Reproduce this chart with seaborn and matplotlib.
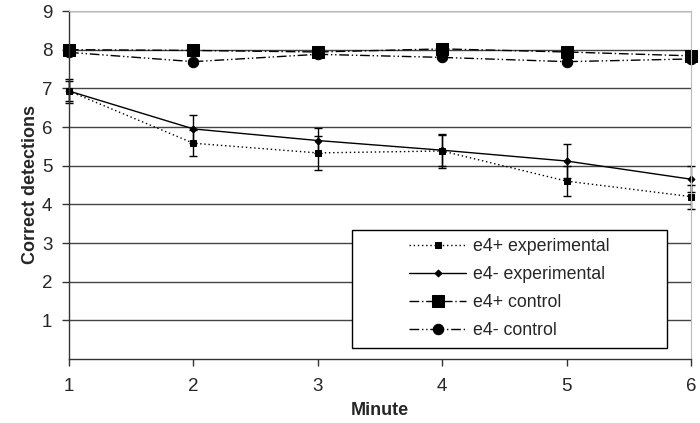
import numpy as np
import pandas as pd
import matplotlib
matplotlib.use("Agg")
import matplotlib.pyplot as plt
import seaborn as sns
from matplotlib.patches import Rectangle

minutes = [1, 2, 3, 4, 5, 6]

e4p_exp = [6.93, 5.58, 5.33, 5.38, 4.60, 4.20]
e4p_exp_err = [0.30, 0.34, 0.43, 0.44, 0.38, 0.31]
e4m_exp = [6.93, 5.95, 5.65, 5.40, 5.12, 4.65]
e4m_exp_err = [0.26, 0.36, 0.33, 0.40, 0.44, 0.33]
e4p_ctrl = [8.00, 7.98, 7.94, 8.02, 7.94, 7.84]
e4m_ctrl = [7.93, 7.69, 7.88, 7.80, 7.69, 7.76]

labels = ["e4+ experimental", "e4- experimental", "e4+ control", "e4- control"]

sns.set_style("white")
plt.rcParams['font.family'] = ['Liberation Sans', 'DejaVu Sans']

fig = plt.figure(figsize=(7, 4.23), dpi=100)
ax = fig.add_axes([69 / 700, 64 / 423, 622 / 700, 348 / 423])

styles = [
    dict(ls=(0, (1, 2)), marker='s', ms=4.5),
    dict(ls='-', marker='D', ms=3.5),
    dict(ls=(0, (7, 2, 1, 2)), marker='s', ms=8),
    dict(ls=(0, (7, 2, 1, 2, 1, 2)), marker='o', ms=7.5),
]
series = [e4p_exp, e4m_exp, e4p_ctrl, e4m_ctrl]
for vals, lab, st in zip(series, labels, styles):
    sns.lineplot(x=minutes, y=vals, ax=ax, color='black', lw=1.0,
                 linestyle=st['ls'], marker=st['marker'], markersize=st['ms'],
                 markeredgecolor='black', label=lab, legend=False, clip_on=False)

for vals, err in [(e4p_exp, e4p_exp_err), (e4m_exp, e4m_exp_err)]:
    eb = ax.errorbar(minutes, vals, yerr=err, fmt='none', ecolor='black',
                     elinewidth=1.0, capsize=3, capthick=1.0)
    for art in eb.lines[1] + eb.lines[2]:
        art.set_clip_on(False)

ax.set_xlim(1, 6)
ax.set_ylim(0, 9)
ax.set_yticks(range(1, 10))
ax.set_xticks(minutes)
ax.yaxis.grid(True, color='#444444', lw=1.0)
ax.set_axisbelow(True)
for s in ['top', 'right']:
    ax.spines[s].set_color('#bbbbbb')
for s in ['left', 'bottom']:
    ax.spines[s].set_color('#333333')
    ax.spines[s].set_linewidth(1.0)
ax.tick_params(axis='both', direction='out', length=5, width=1, color='#333333',
               labelsize=13.5, bottom=True, left=True)
ax.set_yticks([0], minor=True)
ax.tick_params(axis='y', which='minor', length=5, width=1, color='#333333')
ax.tick_params(axis='x', pad=9)
ax.tick_params(axis='y', pad=7)
ax.set_xlabel('Minute', fontsize=13, fontweight='bold', labelpad=5)
ax.set_ylabel('Correct detections', fontsize=13, fontweight='bold', labelpad=2)

box = Rectangle((0.455, 0.032), 0.506, 0.339, transform=ax.transAxes,
                facecolor='white', edgecolor='black', lw=1.0, zorder=5)
ax.add_patch(box)
leg = ax.legend(loc='center', bbox_to_anchor=(0.455, 0.032, 0.506, 0.339),
                frameon=False, fontsize=12.8, labelspacing=0.62, handlelength=3.2,
                handletextpad=0.4)
leg.set_zorder(6)

fig.savefig('out.png', dpi=100)
